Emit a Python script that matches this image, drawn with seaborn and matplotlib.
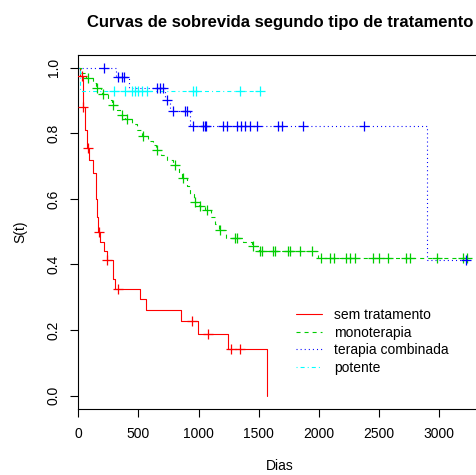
import numpy as np
import pandas as pd
import matplotlib
matplotlib.use("Agg")
import matplotlib.pyplot as plt
from matplotlib.lines import Line2D
import seaborn as sns

# Kaplan-Meier estimates per treatment group:
# event times (days), survival just after each event, and censoring times
groups = ["sem tratamento", "monoterapia", "terapia combinada", "potente"]

sem_t = [14, 35, 40, 56, 70, 90, 125, 150, 153, 161, 180, 216, 236, 286, 308,
         513, 560, 856, 998, 1247, 1568]
sem_s = [0.976, 0.92, 0.88, 0.81, 0.756, 0.72, 0.68, 0.60, 0.546, 0.50, 0.47,
         0.44, 0.413, 0.355, 0.324, 0.294, 0.260, 0.228, 0.189, 0.141, 0.0]
sem_cens = [28, 42, 83, 172, 236, 327, 948, 1081, 1269, 1347]

mono_t = [20, 60, 120, 150, 185, 200, 245, 280, 320, 350, 390, 450, 490, 530,
          580, 620, 645, 690, 740, 790, 840, 865, 900, 930, 960, 1000, 1050,
          1100, 1140, 1170, 1230, 1370, 1440, 1500, 1990]
mono_s = [0.984, 0.968, 0.952, 0.937, 0.928, 0.919, 0.903, 0.886, 0.871, 0.856,
          0.844, 0.827, 0.810, 0.792, 0.778, 0.763, 0.749, 0.734, 0.718, 0.703,
          0.683, 0.663, 0.640, 0.615, 0.591, 0.578, 0.566, 0.545, 0.525, 0.505,
          0.482, 0.470, 0.456, 0.442, 0.421]
mono_cens = [83, 153, 203, 291, 360, 402, 535, 651, 804, 873, 970, 1011, 1067,
             1178, 1302, 1316, 1454, 1510, 1524, 1620, 1635, 1745, 1760, 1842,
             1939, 2014, 2092, 2125, 2222, 2258, 2299, 2446, 2499, 2576, 2721,
             2757, 2978, 3199, 3233]

comb_t = [315, 420, 720, 760, 930, 2900]
comb_s = [0.971, 0.939, 0.902, 0.868, 0.822, 0.414]
comb_cens = [216, 332, 360, 382, 651, 679, 706, 735, 790, 887, 900, 951, 1034,
             1053, 1061, 1205, 1233, 1316, 1350, 1385, 1427, 1482, 1663, 1690,
             1870, 2377, 3219]

pot_t = [14]
pot_s = [0.929]
pot_cens = [299, 388, 443, 471, 499, 527, 568, 956, 978, 1344, 1510]

x_ticks = [0, 500, 1000, 1500, 2000, 2500, 3000]
y_ticks = [0.0, 0.2, 0.4, 0.6, 0.8, 1.0]

colors = ["#FF0000", "#00CD00", "#0000FF", "#00FFFF"]
dash_patterns = [None, (2.9, 2.9), (0.75, 2.2), (0.75, 2.2, 2.9, 2.2)]

sns.set_theme(style="white")
plt.rcParams["font.family"] = ["Liberation Sans", "DejaVu Sans"]
plt.rcParams["lines.scale_dashes"] = False
plt.rcParams["text.color"] = "black"
plt.rcParams["axes.labelcolor"] = "black"

W, H = 476, 475
fig = plt.figure(figsize=(W / 100, H / 100), dpi=100)
ax = fig.add_axes([78.3 / W, 1 - 408.8 / H, 403.1 / W, 354.2 / H])


def step_frame(t, s, cens):
    end = max([t[-1]] + list(cens))
    xs = [0] + list(t) + ([end] if end > t[-1] else [])
    ys = [1.0] + list(s) + ([s[-1]] if end > t[-1] else [])
    return pd.DataFrame({"dias": xs, "S": ys})


def censor_frame(t, s, cens):
    t = np.asarray(t)
    s_all = np.concatenate([[1.0], s])
    idx = np.searchsorted(t, np.asarray(cens), side="right")
    return pd.DataFrame({"dias": cens, "S": s_all[idx]})


data = [(sem_t, sem_s, sem_cens), (mono_t, mono_s, mono_cens),
        (comb_t, comb_s, comb_cens), (pot_t, pot_s, pot_cens)]

for (t, s, cens), col, dash in zip(data, colors, dash_patterns):
    curve = step_frame(t, s, cens)
    kw = dict(color=col, linewidth=0.8, drawstyle="steps-post", sort=False,
              estimator=None, ax=ax, legend=False)
    if dash is not None:
        kw["dashes"] = dash
    sns.lineplot(data=curve, x="dias", y="S", **kw)
    marks = censor_frame(t, s, cens)
    sns.scatterplot(data=marks, x="dias", y="S", marker="+", s=55,
                    color=col, linewidth=0.9, ax=ax, legend=False, zorder=3)

ax.set_xlim(0, 3350)
ax.set_ylim(-0.04, 1.04)
ax.set_xticks(x_ticks)
ax.set_xticklabels([str(v) for v in x_ticks])
ax.set_yticks(y_ticks)
ax.set_yticklabels([f"{v:.1f}" for v in y_ticks], rotation=90, va="center")

for sp in ax.spines.values():
    sp.set_color("black")
    sp.set_linewidth(0.8)
ax.tick_params(axis="both", which="major", direction="out", length=5.8,
               width=0.8, color="black", labelsize=10, labelcolor="black",
               bottom=True, left=True, pad=7)
ax.set_xlabel("Dias", fontsize=10, labelpad=13)
ax.set_ylabel("S(t)", fontsize=10, labelpad=14)

fig.text(280 / W, 1 - 27 / H, "Curvas de sobrevida segundo tipo de tratamento",
         ha="center", va="baseline", fontsize=12, fontweight="bold")

handles = [Line2D([0], [0], color=colors[0], lw=0.8)]
for col, dash in zip(colors[1:], dash_patterns[1:]):
    handles.append(Line2D([0], [0], color=col, lw=0.8, dashes=dash))
ax.legend(handles, groups, loc="upper left",
          bbox_to_anchor=(296 / W, 1 - 308 / H), bbox_transform=fig.transFigure,
          frameon=False, fontsize=10, handlelength=1.85, handletextpad=0.9,
          labelspacing=0.26, borderpad=0, borderaxespad=0)

fig.savefig("out.png", dpi=100)
